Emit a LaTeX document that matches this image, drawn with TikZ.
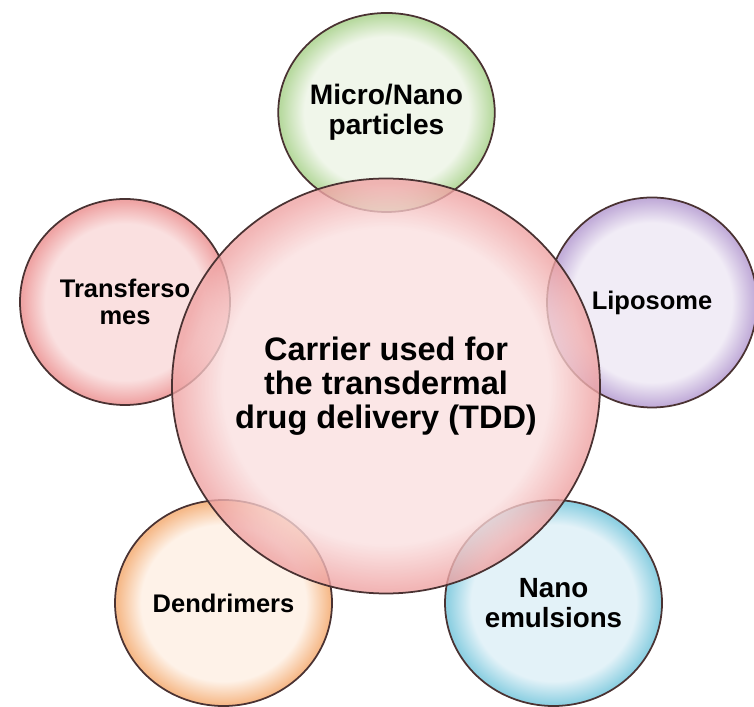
\documentclass[tikz,border=0pt]{standalone}
\usepackage{fontspec}
\setmainfont{Liberation Sans}
\usetikzlibrary{positioning,shapes.geometric}

% rim and bubble colours
\definecolor{rimline}{HTML}{4A3232}
\definecolor{pinkin}{HTML}{FAE0E0}
\definecolor{pinkout}{HTML}{EFA4A4}
\definecolor{greenin}{HTML}{F0F6EA}
\definecolor{greenout}{HTML}{B8DAA0}
\definecolor{lilacin}{HTML}{F1ECF6}
\definecolor{lilacout}{HTML}{C2ADD9}
\definecolor{peachin}{HTML}{FEF2E8}
\definecolor{peachout}{HTML}{F6BA8A}
\definecolor{skyin}{HTML}{E3F2F8}
\definecolor{skyout}{HTML}{8ED0E2}
\colorlet{bubin}{white}
\colorlet{bubout}{gray}

% light centre, coloured rim (the path box spans 25bp of radius)
\pgfdeclareradialshading[bubin,bubout]{bubble}{\pgfpoint{0bp}{0bp}}{color(0bp)=(bubin); color(19bp)=(bubin); color(24.5bp)=(bubout); color(25bp)=(bubout); color(50bp)=(bubout)}

\begin{document}
\begin{tikzpicture}[
bubble/.style n args={4}{ellipse, draw=rimline, line width=1pt, minimum width=#1, minimum height=#2, inner sep=0pt, align=center, font=\fontsize{14.5}{15.5}\selectfont\bfseries, shading=bubble, /utils/exec={\colorlet{bubin}{#3}\colorlet{bubout}{#4}}},
hub/.style={fill opacity=0.8, text opacity=1, font=\fontsize{18.5}{19.5}\selectfont\bfseries}
]
\useasboundingbox (0,0) rectangle (15.08,14.12);

\node[bubble={4.26cm}{3.98cm}{greenin}{greenout}, font=\fontsize{16}{17}\selectfont\bfseries] (micro) at (7.73,11.87) {Micro/Nano\\particles};
\node[bubble={4.2cm}{4.12cm}{pinkin}{pinkout}] (trans) at (2.5,8.08) {Transferso\\mes};
\node[bubble={4.2cm}{4.2cm}{lilacin}{lilacout}] (lipo) at (13.04,8.07) {Liposome};
\node[bubble={4.34cm}{4.12cm}{peachin}{peachout}] (dend) at (4.47,2.06) {Dendrimers};
\node[bubble={4.34cm}{4.12cm}{skyin}{skyout}, font=\fontsize{15.8}{16.8}\selectfont\bfseries] (emul) at (11.07,2.06) {Nano\\emulsions};

\node[bubble={8.56cm}{8.3cm}{pinkin}{pinkout}, hub] (tdd) at (7.72,6.4) {Carrier used for\\the transdermal\\drug delivery (TDD)};
\end{tikzpicture}
\end{document}
